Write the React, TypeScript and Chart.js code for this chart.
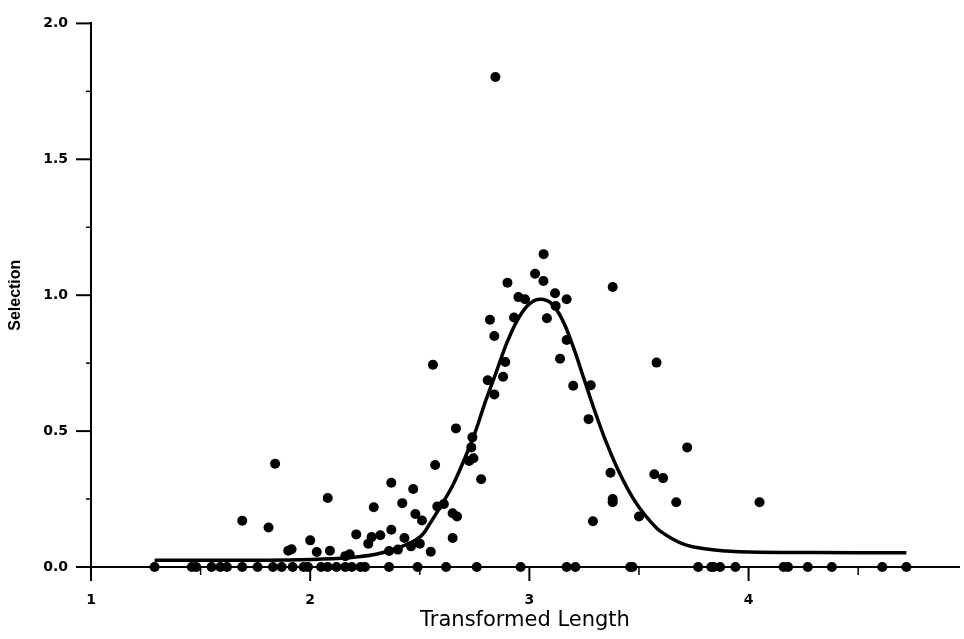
import React, { useEffect, useRef } from 'react';
import { Chart, registerables } from 'chart.js';

Chart.register(...registerables);

// Observations with selection = 0
const zeroX = [1.29, 1.46, 1.48, 1.55, 1.59, 1.62, 1.69, 1.76, 1.83, 1.87, 1.92, 1.97, 1.99, 2.05, 2.08, 2.12, 2.16, 2.19, 2.23, 2.25, 2.36, 2.49, 2.62, 2.76, 2.96, 3.17, 3.21, 3.46, 3.47, 3.77, 3.83, 3.84, 3.87, 3.94, 4.16, 4.18, 4.27, 4.38, 4.61, 4.72];

// Observations with selection > 0
const obsX = [1.69, 1.81, 1.84, 1.90, 1.915, 2.00, 2.03, 2.08, 2.09, 2.16, 2.18, 2.21, 2.265, 2.28, 2.29, 2.32, 2.36, 2.37, 2.37, 2.40, 2.42, 2.43, 2.46, 2.47, 2.48, 2.50, 2.51, 2.55, 2.56, 2.57, 2.58, 2.61, 2.65, 2.65, 2.665, 2.67, 2.725, 2.735, 2.74, 2.745, 2.78, 2.81, 2.82, 2.84, 2.84, 2.845, 2.88, 2.89, 2.90, 2.93, 2.95, 2.98, 3.026, 3.064, 3.065, 3.08, 3.117, 3.12, 3.14, 3.17, 3.17, 3.20, 3.27, 3.28, 3.29, 3.37, 3.38, 3.38, 3.38, 3.50, 3.57, 3.58, 3.61, 3.67, 3.72, 4.05];
const obsY = [0.17, 0.145, 0.38, 0.06, 0.065, 0.098, 0.055, 0.254, 0.06, 0.04, 0.047, 0.12, 0.086, 0.11, 0.22, 0.117, 0.059, 0.31, 0.137, 0.064, 0.235, 0.107, 0.076, 0.287, 0.195, 0.086, 0.171, 0.056, 0.744, 0.375, 0.223, 0.232, 0.198, 0.107, 0.51, 0.186, 0.39, 0.44, 0.477, 0.40, 0.323, 0.687, 0.91, 0.635, 0.85, 1.803, 0.70, 0.754, 1.046, 0.918, 0.993, 0.985, 1.079, 1.052, 1.151, 0.915, 1.007, 0.96, 0.766, 0.985, 0.835, 0.667, 0.544, 0.669, 0.168, 0.347, 1.03, 0.25, 0.238, 0.186, 0.341, 0.752, 0.327, 0.238, 0.44, 0.238];

// Fitted selection curve
const curveX = [1.29, 1.6, 1.9, 2.1, 2.2, 2.3, 2.4, 2.5, 2.55, 2.6, 2.65, 2.7, 2.75, 2.8, 2.85, 2.9, 2.95, 3.0, 3.05, 3.1, 3.15, 3.2, 3.25, 3.3, 3.35, 3.4, 3.45, 3.5, 3.55, 3.6, 3.7, 3.8, 3.9, 4.0, 4.3, 4.72];
const curveY = [0.025, 0.025, 0.026, 0.03, 0.036, 0.047, 0.07, 0.11, 0.165, 0.23, 0.30, 0.39, 0.49, 0.61, 0.72, 0.83, 0.915, 0.968, 0.985, 0.97, 0.91, 0.81, 0.69, 0.57, 0.46, 0.365, 0.285, 0.22, 0.17, 0.13, 0.085, 0.067, 0.059, 0.055, 0.053, 0.052];

const yTickLabels = ['0.0', '0.5', '1.0', '1.5', '2.0'];
const xTickLabels = ['1', '2', '3', '4'];

const isMultiple = (v: number, step: number) => Math.abs(v / step - Math.round(v / step)) < 1e-6;

const tickMarks = {
  id: 'tickMarks',
  afterDraw(chart: any) {
    const { ctx } = chart;
    const xs = chart.scales.x;
    const ys = chart.scales.y;
    ctx.save();
    ctx.strokeStyle = '#000';
    ys.ticks.forEach((t: any) => {
      const p = ys.getPixelForValue(t.value);
      const major = isMultiple(t.value, 0.5);
      ctx.lineWidth = major ? 2 : 1.5;
      ctx.beginPath();
      ctx.moveTo(xs.left - (major ? 15 : 5), p);
      ctx.lineTo(xs.left, p);
      ctx.stroke();
    });
    xs.ticks.forEach((t: any) => {
      const p = xs.getPixelForValue(t.value);
      const major = isMultiple(t.value, 1);
      ctx.lineWidth = major ? 2 : 1.5;
      ctx.beginPath();
      ctx.moveTo(p, ys.bottom);
      ctx.lineTo(p, ys.bottom + (major ? 14 : 8));
      ctx.stroke();
    });
    ctx.restore();
  },
};

export default function App() {
  const ref = useRef<HTMLCanvasElement | null>(null);
  useEffect(() => {
    if (!ref.current) return;
    const scatterPts = [
      ...zeroX.map((x) => ({ x, y: 0 })),
      ...obsX.map((x, i) => ({ x, y: obsY[i] })),
    ];
    const curvePts = curveX.map((x, i) => ({ x, y: curveY[i] }));
    const chart = new Chart(ref.current, {
      type: 'scatter',
      data: {
        datasets: [
          {
            type: 'line',
            label: 'Fit',
            data: curvePts,
            borderColor: '#000',
            borderWidth: 3.5,
            pointRadius: 0,
            tension: 0.4,
            fill: false,
          } as any,
          {
            label: 'Observed',
            data: scatterPts,
            backgroundColor: '#000',
            borderColor: '#000',
            pointRadius: 5,
            pointBorderWidth: 0,
            clip: false,
          } as any,
        ],
      },
      options: {
        responsive: false,
        animation: false,
        events: [],
        layout: { padding: { left: 0, right: 0, top: 12, bottom: 0 } },
        plugins: { legend: { display: false }, tooltip: { enabled: false } },
        scales: {
          x: {
            type: 'linear',
            min: 1,
            max: 4.96,
            afterFit: (s: any) => { s.height = 72; },
            grid: { display: false },
            border: { display: true, color: '#000', width: 2 },
            ticks: {
              stepSize: 0.5,
              includeBounds: false,
              autoSkip: false,
              maxRotation: 0,
              padding: 17,
              color: '#000',
              font: { family: 'DejaVu Sans', weight: 'bold', size: 14 },
              callback: (v: any) => (isMultiple(Number(v), 1) ? xTickLabels[Math.round(Number(v)) - 1] ?? '' : ''),
            },
            title: {
              display: true,
              text: 'Transformed Length',
              color: '#000',
              font: { family: 'DejaVu Sans', size: 21, weight: 'normal' },
              padding: { top: 0, bottom: 6 },
            },
          },
          y: {
            type: 'linear',
            min: 0,
            max: 2,
            afterFit: (s: any) => { s.width = 91; },
            grid: { display: false },
            border: { display: true, color: '#000', width: 2 },
            ticks: {
              stepSize: 0.25,
              autoSkip: false,
              padding: 15,
              color: '#000',
              font: { family: 'DejaVu Sans', weight: 'bold', size: 14 },
              callback: (v: any) => (isMultiple(Number(v), 0.5) ? yTickLabels[Math.round(Number(v) * 2)] ?? '' : ''),
            },
            title: {
              display: true,
              text: 'Selection',
              color: '#000',
              font: { family: 'Liberation Sans', size: 16, weight: 'bold' },
              padding: { top: 6, bottom: 0 },
            },
          },
        },
      },
      plugins: [tickMarks],
    });
    return () => chart.destroy();
  }, []);
  return (
    <div style={{ position: 'absolute', left: 0, top: 0, width: 964, height: 639, background: '#fff' }}>
      <canvas ref={ref} width={964} height={639} style={{ display: 'block' }} />
    </div>
  );
}
